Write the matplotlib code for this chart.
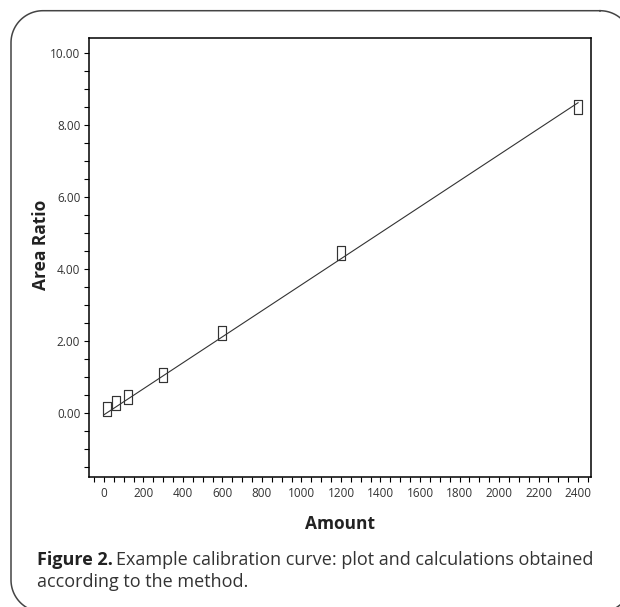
import matplotlib
matplotlib.use("Agg")
import numpy as np
import matplotlib.pyplot as plt
from matplotlib.path import Path
from matplotlib.ticker import MultipleLocator, FixedLocator, FormatStrFormatter

plt.rcParams['font.family'] = ['Open Sans', 'DejaVu Sans']

# calibration standards
amount = [15, 60, 120, 300, 600, 1200, 2400]
area_ratio = [0.09, 0.28, 0.44, 1.05, 2.20, 4.44, 8.50]

fit_x = [0, 2400]
fit_y = [-0.06, 8.61]

y_major = [0, 2, 4, 6, 8, 10]

W, H = 620, 607
fig = plt.figure(figsize=(W / 100, H / 100), dpi=100)


def rounded_frame(ax, left, top, right, bottom, r):
    # closed outline of a rounded rectangle, pixel coords with y measured downwards
    pts = []
    corners = [(right - r, top + r, -90, 0), (right - r, bottom - r, 0, 90),
               (left + r, bottom - r, 90, 180), (left + r, top + r, 180, 270)]
    for cx, cy, a0, a1 in corners:
        t = np.radians(np.linspace(a0, a1, 30))
        pts += list(zip(cx + r * np.cos(t), cy + r * np.sin(t)))
    pts.append(pts[0])
    xs, ys = zip(*pts)
    ax.plot(xs, ys, color='#444444', lw=1.1, solid_joinstyle='round')


# background axes in pixel units for the rounded frame
bg = fig.add_axes([0, 0, 1, 1], zorder=0)
bg.set_xlim(0, W)
bg.set_ylim(H, 0)
bg.axis('off')
rounded_frame(bg, 11, 10.7, 632, 612, 32)

# plot area (pixel box 89..591 x 38..477)
ax = fig.add_axes([89.3 / W, 1 - 476.7 / H, (590.7 - 89.3) / W, (476.7 - 38.3) / H], zorder=1)
ax.patch.set_alpha(0)

# tall narrow open rectangle marker
rect = Path([(-0.27, -0.5), (0.27, -0.5), (0.27, 0.5), (-0.27, 0.5), (-0.27, -0.5)],
            [Path.MOVETO, Path.LINETO, Path.LINETO, Path.LINETO, Path.CLOSEPOLY])

ax.plot(fit_x, fit_y, color='#333333', lw=0.8, zorder=2)
ax.plot(amount, area_ratio, ls='none', marker=rect, markersize=10.5, mfc='none',
        mec='#333333', mew=0.85, zorder=3)

ax.set_xlim(-74, 2464)
ax.set_ylim(-1.78, 10.4)

ax.xaxis.set_major_locator(MultipleLocator(200))
ax.xaxis.set_minor_locator(MultipleLocator(50))
ax.yaxis.set_major_locator(FixedLocator(y_major))
ax.yaxis.set_minor_locator(MultipleLocator(0.5))
ax.yaxis.set_major_formatter(FormatStrFormatter('%.2f'))

for s in ax.spines.values():
    s.set_linewidth(1.1)
ax.tick_params(which='both', direction='out', length=3.5, width=0.8, color='black',
               labelsize=8.5, labelcolor='#333333', pad=3)
ax.tick_params(axis='x', pad=4)

ax.set_xlabel('Amount', fontsize=12.5, fontweight='bold', color='#222222', va='center')
ax.xaxis.set_label_coords(0.5, -0.108)
ax.set_ylabel('Area Ratio', fontsize=12.5, fontweight='bold', color='#222222', va='center')
ax.yaxis.set_label_coords(-0.097, 0.528)

# caption
cap_size = 13
t1 = fig.text(37 / W, 1 - 565 / H, 'Figure 2.', fontsize=cap_size, fontweight='bold',
              color='#222222', va='baseline')
fig.text(37 / W, 1 - 587 / H, 'according to the method.', fontsize=cap_size,
         color='#333333', va='baseline')
fig.canvas.draw()
bb = t1.get_window_extent()
fig.text(bb.x1 / W + 3 / W, 1 - 565 / H, 'Example calibration curve: plot and calculations obtained',
         fontsize=cap_size, color='#333333', va='baseline')

fig.savefig('out.png', dpi=100)
